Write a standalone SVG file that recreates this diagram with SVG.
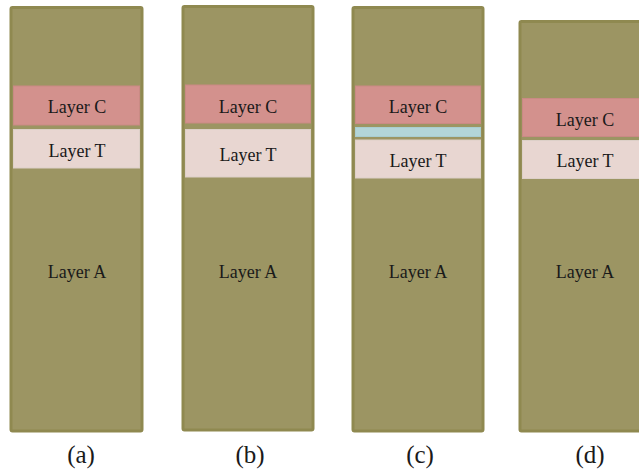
<svg xmlns="http://www.w3.org/2000/svg" width="639" height="471" viewBox="0 0 639 471">
  <style>
    .sub { fill: #9c9563; stroke: #8f8950; stroke-width: 3; }
    .lc { fill: #d3918d; stroke: #c98a84; stroke-width: 1; }
    .lt { fill: #e8d6d1; stroke: #ddd0c8; stroke-width: 1; }
    .ls { fill: #b3d5d8; stroke: #a9cdd0; stroke-width: 1; }
    .t { font-family: "Liberation Serif", "Times New Roman", serif; font-size: 18px; fill: #1a1a1a; text-anchor: middle; }
    .cap { font-family: "Liberation Serif", "Times New Roman", serif; font-size: 25px; fill: #1a1a1a; text-anchor: middle; }
  </style>
  <rect width="639" height="471" fill="#ffffff"/>

  <!-- (a) -->
  <g id="panel-a">
    <rect class="sub" x="11" y="7.5" width="131" height="423.5" rx="1.5"/>
    <rect class="lc" x="13.5" y="86" width="126" height="39"/>
    <rect class="lt" x="13.5" y="129.5" width="126" height="38.5"/>
    <text class="t" x="77" y="113">Layer C</text>
    <text class="t" x="77" y="157">Layer T</text>
    <text class="t" x="77" y="278">Layer A</text>
    <text class="cap" x="81" y="463">(a)</text>
  </g>

  <!-- (b) -->
  <g id="panel-b">
    <rect class="sub" x="183" y="6.5" width="130" height="423.5" rx="1.5"/>
    <rect class="lc" x="185.5" y="85" width="125" height="38"/>
    <rect class="lt" x="185.5" y="129.5" width="125" height="47.5"/>
    <text class="t" x="248" y="113">Layer C</text>
    <text class="t" x="248" y="161">Layer T</text>
    <text class="t" x="248" y="278">Layer A</text>
    <text class="cap" x="250" y="463">(b)</text>
  </g>

  <!-- (c) -->
  <g id="panel-c">
    <rect class="sub" x="353" y="7.5" width="130" height="423.5" rx="1.5"/>
    <rect class="lc" x="355.5" y="86" width="125" height="37.5"/>
    <rect class="ls" x="355.5" y="127.5" width="125" height="9"/>
    <rect class="lt" x="355.5" y="140" width="125" height="38"/>
    <text class="t" x="418" y="113">Layer C</text>
    <text class="t" x="418" y="167">Layer T</text>
    <text class="t" x="418" y="278">Layer A</text>
    <text class="cap" x="420" y="463">(c)</text>
  </g>

  <!-- (d) -->
  <g id="panel-d">
    <rect class="sub" x="520" y="21.5" width="130" height="409.5" rx="1.5"/>
    <rect class="lc" x="522.5" y="98.5" width="125" height="38"/>
    <rect class="lt" x="522.5" y="140.5" width="125" height="38"/>
    <text class="t" x="585" y="126">Layer C</text>
    <text class="t" x="585" y="167">Layer T</text>
    <text class="t" x="585" y="278">Layer A</text>
    <text class="cap" x="590" y="463">(d)</text>
  </g>
</svg>
